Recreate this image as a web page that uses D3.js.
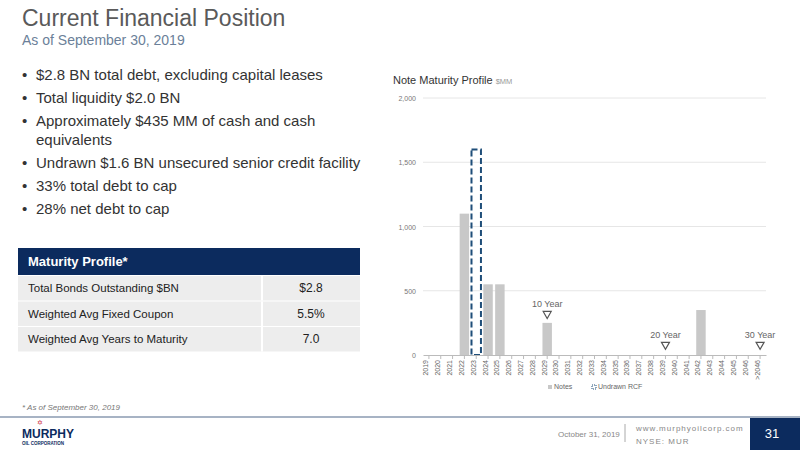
<!DOCTYPE html>
<html><head><meta charset="utf-8">
<script src="https://cdn.jsdelivr.net/npm/d3@7"></script>
<style>body{margin:0;background:#fff;font-family:Arial,"Liberation Sans",sans-serif}</style>
</head><body><svg id="slide" width="800" height="450"></svg>
<script>
const years = ["2019","2020","2021","2022","2023","2024","2025","2026","2027","2028","2029","2030","2031","2032","2033","2034","2035","2036","2037","2038","2039","2040","2041","2042","2043","2044","2045","2046",">2046"];
const notes = [0,0,0,1100,0,550,550,0,0,0,250,0,0,0,0,0,0,0,0,0,0,0,0,350,0,0,0,0,0];
const rcf = [0,0,0,0,1600,0,0,0,0,0,0,0,0,0,0,0,0,0,0,0,0,0,0,0,0,0,0,0,0];
const yTicks = [0,500,1000,1500,2000];
const markers = [{year:"2029",label:"10 Year",v:300},{year:"2039",label:"20 Year",v:60},{year:">2046",label:"30 Year",v:60}];
const bullets = ["$2.8 BN total debt, excluding capital leases","Total liquidity $2.0 BN","Approximately $435 MM of cash and cash|equivalents","Undrawn $1.6 BN unsecured senior credit facility","33% total debt to cap","28% net debt to cap"];
const tableRows = [["Total Bonds Outstanding $BN","$2.8"],["Weighted Avg Fixed Coupon","5.5%"],["Weighted Avg Years to Maturity","7.0"]];

const svg = d3.select("#slide");
// header
svg.append("text").attr("x",22).attr("y",26).attr("font-size",23).attr("fill","#5a5a5a").text("Current Financial Position");
svg.append("text").attr("x",22).attr("y",45).attr("font-size",14).attr("fill","#6b7f99").text("As of September 30, 2019");

// bullets
let by = 80;
bullets.forEach(b => {
  const lines = b.split("|");
  svg.append("text").attr("x",22).attr("y",by).attr("font-size",15).attr("fill","#333").text("•");
  lines.forEach((l,i) => svg.append("text").attr("x",36).attr("y",by+i*19).attr("font-size",15).attr("fill","#333").text(l));
  by += 23 + (lines.length-1)*19;
});

// table
svg.append("rect").attr("x",18).attr("y",248).attr("width",342).attr("height",27).attr("fill","#0c2b5e");
svg.append("text").attr("x",28).attr("y",266).attr("font-size",13).attr("font-weight","bold").attr("fill","#fff").text("Maturity Profile*");
tableRows.forEach((r,i) => {
  const y = 276 + i*25.5;
  svg.append("rect").attr("x",18).attr("y",y).attr("width",342).attr("height",24.5).attr("fill","#ededed");
  svg.append("line").attr("x1",262).attr("x2",262).attr("y1",y).attr("y2",y+24.5).attr("stroke","#fff").attr("stroke-width",2);
  svg.append("text").attr("x",28).attr("y",y+16).attr("font-size",11.5).attr("fill","#222").text(r[0]);
  svg.append("text").attr("x",311).attr("y",y+16).attr("font-size",12).attr("text-anchor","middle").attr("fill","#222").text(r[1]);
});
svg.append("text").attr("x",22).attr("y",410).attr("font-size",8).attr("font-style","italic").attr("fill","#777").text("* As of September 30, 2019");

// chart
const x = d3.scaleBand().domain(years).range([423,766]).paddingInner(0.2).paddingOuter(0.1);
const y = d3.scaleLinear().domain([0,2000]).range([355,98]);
svg.append("text").attr("x",393).attr("y",84).attr("font-size",11).attr("fill","#333").text("Note Maturity Profile ")
  .append("tspan").attr("font-size",7.5).attr("fill","#999").text("$MM");
svg.append("g").selectAll("line").data(yTicks.slice(1)).join("line")
  .attr("x1",423).attr("x2",766).attr("y1",d=>y(d)).attr("y2",d=>y(d)).attr("stroke","#e6e6e6");
svg.append("g").selectAll("text").data(yTicks).join("text")
  .attr("x",416).attr("y",d=>y(d)+3).attr("text-anchor","end").attr("font-size",7).attr("fill","#777").text(d3.format(","));
svg.append("g").selectAll("rect").data(years).join("rect")
  .attr("x",d=>x(d)).attr("width",x.bandwidth()).attr("y",(d,i)=>y(notes[i])).attr("height",(d,i)=>y(0)-y(notes[i])).attr("fill","#c8c8c8");
svg.append("g").selectAll("rect").data(years.filter((d,i)=>rcf[i]>0)).join("rect")
  .attr("x",d=>x(d)).attr("width",x.bandwidth()).attr("y",d=>y(rcf[years.indexOf(d)])).attr("height",d=>y(0)-y(rcf[years.indexOf(d)]))
  .attr("fill","none").attr("stroke","#1f4e79").attr("stroke-width",2).attr("stroke-dasharray","6,3");
const ax = svg.append("g").attr("transform","translate(0,355)").call(d3.axisBottom(x).tickSize(4).tickSizeOuter(0));
ax.select(".domain").attr("stroke","#bbb");
ax.selectAll("line").attr("stroke","#bbb");
ax.selectAll("text").attr("transform","rotate(-90)").attr("text-anchor","end").attr("x",-5).attr("y",-3).attr("dy","0.35em").attr("font-size",7).attr("fill","#666").attr("font-family","Arial");
markers.forEach(m => {
  const cx = x(m.year)+x.bandwidth()/2, cy = y(m.v);
  svg.append("path").attr("d",`M${cx-4},${cy-5}L${cx+4},${cy-5}L${cx},${cy+2}Z`).attr("fill","#fff").attr("stroke","#555").attr("stroke-width",1.2);
  svg.append("text").attr("x",cx).attr("y",cy-9).attr("text-anchor","middle").attr("font-size",9).attr("fill","#666").text(m.label);
});
// legend
svg.append("rect").attr("x",548).attr("y",385).attr("width",4).attr("height",4).attr("fill","#c8c8c8");
svg.append("text").attr("x",554).attr("y",389).attr("font-size",7).attr("fill","#666").text("Notes");
svg.append("rect").attr("x",592).attr("y",385).attr("width",4).attr("height",4).attr("fill","none").attr("stroke","#1f4e79").attr("stroke-dasharray","1,1");
svg.append("text").attr("x",598).attr("y",389).attr("font-size",7).attr("fill","#666").text("Undrawn RCF");

// footer
svg.append("line").attr("x1",0).attr("x2",800).attr("y1",417).attr("y2",417).attr("stroke","#8a9ab0").attr("stroke-width",1.5);
svg.append("text").attr("x",40).attr("y",425).attr("font-size",7).attr("fill","#c8102e").attr("text-anchor","middle").text("✡");
svg.append("text").attr("x",22).attr("y",438).attr("font-size",12).attr("font-weight","bold").attr("fill","#0c2b5e").text("MURPHY");
svg.append("text").attr("x",22).attr("y",445).attr("font-size",4.5).attr("font-weight","bold").attr("fill","#0c2b5e").text("OIL CORPORATION");
svg.append("text").attr("x",558).attr("y",437).attr("font-size",8).attr("fill","#888").text("October 31, 2019");
svg.append("line").attr("x1",625).attr("x2",625).attr("y1",424).attr("y2",442).attr("stroke","#aaa");
svg.append("text").attr("x",636).attr("y",431).attr("font-size",8).attr("letter-spacing",1).attr("fill","#888").text("www.murphyoilcorp.com");
svg.append("text").attr("x",636).attr("y",444).attr("font-size",8).attr("letter-spacing",1).attr("fill","#888").text("NYSE: MUR");
svg.append("rect").attr("x",750).attr("y",418).attr("width",50).attr("height",32).attr("fill","#0c2b5e");
svg.append("text").attr("x",772).attr("y",438).attr("font-size",13).attr("text-anchor","middle").attr("fill","#fff").text("31");
</script></body></html>
